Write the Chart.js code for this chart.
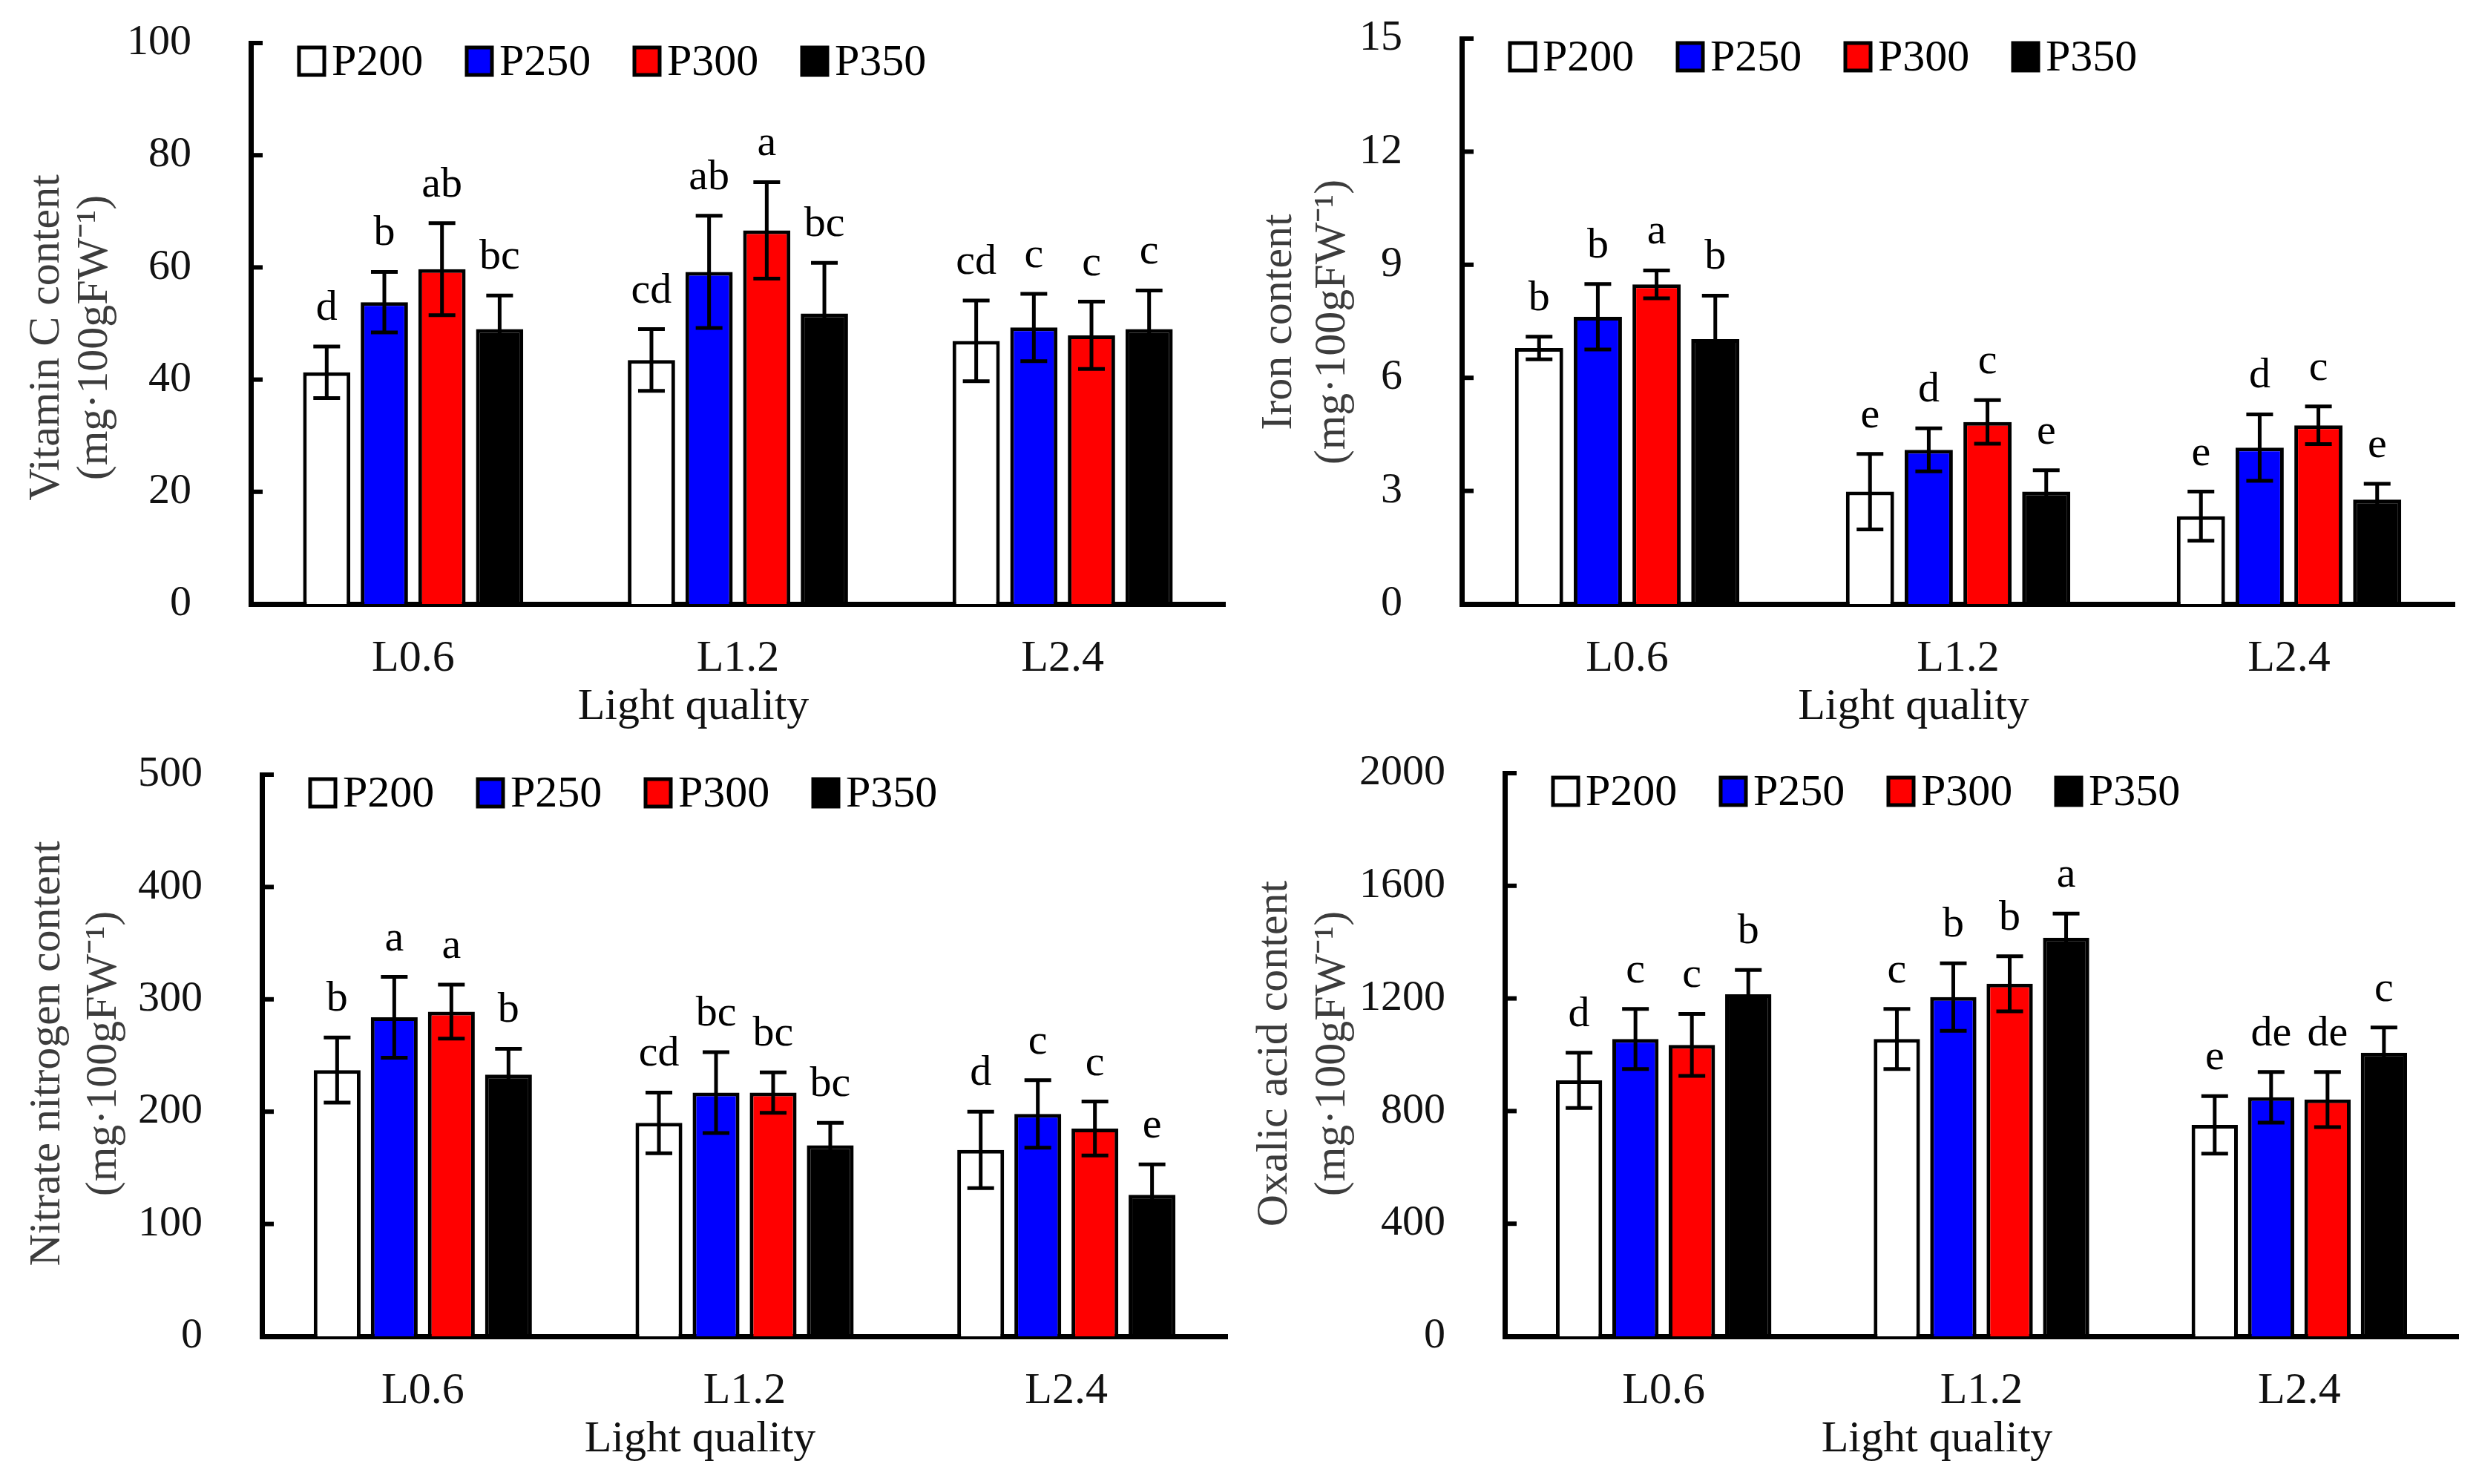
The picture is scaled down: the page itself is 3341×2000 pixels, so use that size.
<!DOCTYPE html>
<html>
<head>
<meta charset="utf-8">
<title>Light quality panels</title>
<script src="https://cdn.jsdelivr.net/npm/chart.js@4.4.1/dist/chart.umd.min.js"></script>
<style>
    html, body { margin: 0; padding: 0; background: #fff; }
    body { width: 3341px; height: 2000px; position: relative; overflow: hidden; }
    .panel { position: absolute; }
</style>
</head>
<body>
<div class="panel" style="left:0;top:0;width:1670px;height:1000px"><canvas id="vitCChart"></canvas></div>
<div class="panel" style="left:1670px;top:0;width:1671px;height:1000px"><canvas id="ironChart"></canvas></div>
<div class="panel" style="left:0;top:1000px;width:1670px;height:1000px"><canvas id="nitrateChart"></canvas></div>
<div class="panel" style="left:1670px;top:1000px;width:1671px;height:1000px"><canvas id="oxalicChart"></canvas></div>
<script>
// shared categories / series
const categories = ['L0.6', 'L1.2', 'L2.4'];
const seriesNames = ['P200', 'P250', 'P300', 'P350'];

// rows = P200, P250, P300, P350 ; columns = L0.6, L1.2, L2.4
const vitCMeans = [[41.3, 43.5, 46.9], [53.8, 59.2, 49.3], [59.7, 66.6, 47.9], [49.0, 51.8, 49.0]];
const vitCErrors = [[4.6, 5.5, 7.2], [5.4, 10.0, 6.0], [8.2, 8.6, 6.0], [6.0, 9.0, 6.9]];
const vitCLetters = [['d', 'cd', 'cd'], ['b', 'ab', 'c'], ['ab', 'a', 'c'], ['bc', 'bc', 'c']];
const vitCTicks = [0, 20, 40, 60, 80, 100];

const ironMeans = [[6.79, 2.98, 2.33], [7.62, 4.09, 4.15], [8.48, 4.83, 4.74], [7.03, 2.98, 2.77]];
const ironErrors = [[0.30, 1.00, 0.65], [0.87, 0.57, 0.88], [0.37, 0.58, 0.50], [1.15, 0.57, 0.42]];
const ironLetters = [['b', 'e', 'e'], ['b', 'd', 'd'], ['a', 'c', 'c'], ['b', 'e', 'e']];
const ironTicks = [0, 3, 6, 9, 12, 15];

const nitrateMeans = [[237, 190, 166], [284, 217, 198], [289, 217, 185], [233, 170, 126]];
const nitrateErrors = [[29, 27, 34], [36, 36, 30], [24, 18, 24], [23, 20, 27]];
const nitrateLetters = [['b', 'cd', 'd'], ['a', 'bc', 'c'], ['a', 'bc', 'c'], ['b', 'bc', 'e']];
const nitrateTicks = [0, 100, 200, 300, 400, 500];

const oxalicMeans = [[909, 1056, 751], [1056, 1205, 849], [1035, 1252, 841], [1215, 1416, 1007]];
const oxalicErrors = [[98, 107, 102], [107, 120, 90], [110, 98, 98], [86, 85, 90]];
const oxalicLetters = [['d', 'c', 'e'], ['c', 'b', 'de'], ['c', 'b', 'de'], ['b', 'a', 'c']];
const oxalicTicks = [0, 400, 800, 1200, 1600, 2000];

document.addEventListener('DOMContentLoaded', () => {

    const palette = {
        white: '#FFFFFF',
        blue: '#0000FF',
        red: '#FF0000',
        black: '#000000',
        title: '#3c3c3c'
    };
    const seriesColors = [palette.white, palette.blue, palette.red, palette.black];
    const serif = "'Liberation Serif', 'Times New Roman', serif";

    // draws error bars, letters, inner ticks, legend and axis titles
    const panelDecor = {
        id: 'panelDecor',
        afterDatasetsDraw(chart, args, opts) {
            const { ctx, chartArea, scales: { x, y } } = chart;
            ctx.save();
            ctx.strokeStyle = '#000';
            ctx.lineWidth = 5;
            chart.data.datasets.forEach((ds, di) => {
                const meta = chart.getDatasetMeta(di);
                meta.data.forEach((bar, i) => {
                    const yTop = y.getPixelForValue(ds.data[i] + ds.errors[i]);
                    const yBot = y.getPixelForValue(ds.data[i] - ds.errors[i]);
                    ctx.beginPath();
                    ctx.moveTo(bar.x, yTop); ctx.lineTo(bar.x, yBot);
                    ctx.moveTo(bar.x - 18, yTop); ctx.lineTo(bar.x + 18, yTop);
                    ctx.moveTo(bar.x - 18, yBot); ctx.lineTo(bar.x + 18, yBot);
                    ctx.stroke();
                    ctx.fillStyle = '#000';
                    ctx.font = `58px ${serif}`;
                    ctx.textAlign = 'center';
                    ctx.textBaseline = 'alphabetic';
                    ctx.fillText(ds.letters[i], bar.x, yTop - 36);
                });
            });

            // inward tick marks
            ctx.lineWidth = 6;
            y.ticks.forEach(t => {
                const py = y.getPixelForValue(t.value);
                ctx.beginPath();
                ctx.moveTo(chartArea.left, py);
                ctx.lineTo(chartArea.left + 16, py);
                ctx.stroke();
            });

            // legend
            ctx.font = `60px ${serif}`;
            ctx.textAlign = 'left';
            ctx.textBaseline = 'alphabetic';
            chart.data.datasets.forEach((ds, di) => {
                const bx = chartArea.left + 65 + di * 226;
                const by = chartArea.top + 6;
                ctx.fillStyle = ds.backgroundColor;
                ctx.fillRect(bx, by, 34, 37);
                ctx.lineWidth = 5;
                ctx.strokeRect(bx, by, 34, 37);
                ctx.fillStyle = '#000';
                ctx.fillText(ds.label, bx + 44, by + 37);
            });

            // x title
            ctx.font = `60px ${serif}`;
            ctx.textAlign = 'center';
            ctx.fillStyle = '#111';
            ctx.fillText('Light quality', (chartArea.left + chartArea.right) / 2 - 60, chartArea.bottom + 155);

            // y title, two rotated lines
            ctx.translate(opts.titleX[0], opts.titleY);
            ctx.rotate(-Math.PI / 2);
            ctx.fillStyle = palette.title;
            ctx.textBaseline = 'middle';
            ctx.fillText(opts.title, 0, 0);
            ctx.fillText('(mg·100gFW⁻¹)', 0, opts.titleX[1] - opts.titleX[0]);
            ctx.restore();
        }
    };

    const buildDatasets = (means, errors, letters) => seriesNames.map((name, si) => ({
        label: name,
        data: means[si],
        errors: errors[si],
        letters: letters[si],
        backgroundColor: seriesColors[si],
        borderColor: palette.black,
        borderWidth: 5,
        categoryPercentage: 0.71,
        barPercentage: 0.82
    }));

    // keep the plot box exactly where the panel says
    const noScalePadding = s => {
        s.paddingTop = 0; s.paddingBottom = 0; s.paddingLeft = 0; s.paddingRight = 0;
    };

    const makePanel = (id, panel, means, errors, letters, ticks) => {
        const ctx = document.getElementById(id)?.getContext('2d');
        if (!ctx) return;
        new Chart(ctx, {
            type: 'bar',
            data: { labels: categories, datasets: buildDatasets(means, errors, letters) },
            plugins: [panelDecor],
            options: {
                responsive: true,
                maintainAspectRatio: false,
                animation: false,
                devicePixelRatio: 1,
                layout: { padding: { top: panel.top, right: panel.width - panel.right, bottom: 0, left: 0 } },
                plugins: {
                    legend: { display: false },
                    tooltip: { enabled: false },
                    panelDecor: { title: panel.title, titleX: panel.titleX, titleY: panel.titleY }
                },
                scales: {
                    x: {
                        grid: { display: false },
                        border: { display: true, color: '#000', width: 7 },
                        ticks: { color: '#111', font: { family: serif, size: 60 }, padding: 30 },
                        afterFit: s => { s.height = panel.height - panel.bottom; noScalePadding(s); }
                    },
                    y: {
                        min: ticks[0],
                        max: ticks[ticks.length - 1],
                        grid: { display: false },
                        border: { display: true, color: '#000', width: 7 },
                        ticks: {
                            stepSize: ticks[1] - ticks[0],
                            color: '#111',
                            font: { family: serif, size: 58 },
                            padding: 72,
                            callback: v => String(v)
                        },
                        afterFit: s => { s.width = panel.left; noScalePadding(s); }
                    }
                }
            }
        });
    };

    makePanel('vitCChart', { width: 1670, height: 1000, left: 338, right: 1651, top: 58, bottom: 814,
        title: 'Vitamin C content', titleX: [63, 128], titleY: 455 }, vitCMeans, vitCErrors, vitCLetters, vitCTicks);
    makePanel('ironChart', { width: 1671, height: 1000, left: 300, right: 1638, top: 52, bottom: 814,
        title: 'Iron content', titleX: [54, 126], titleY: 434 }, ironMeans, ironErrors, ironLetters, ironTicks);
    makePanel('nitrateChart', { width: 1670, height: 1000, left: 353, right: 1654, top: 44, bottom: 801,
        title: 'Nitrate nitrogen content', titleX: [64, 140], titleY: 420 }, nitrateMeans, nitrateErrors, nitrateLetters, nitrateTicks);
    makePanel('oxalicChart', { width: 1671, height: 1000, left: 358, right: 1643, top: 42, bottom: 801,
        title: 'Oxalic acid content', titleX: [48, 126], titleY: 420 }, oxalicMeans, oxalicErrors, oxalicLetters, oxalicTicks);
});
</script>
</body>
</html>
